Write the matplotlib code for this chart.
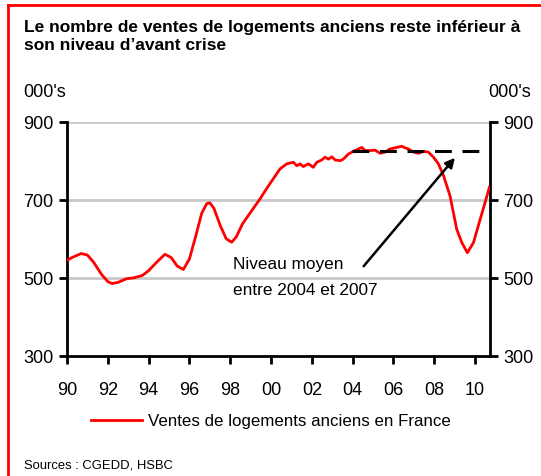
import matplotlib
matplotlib.use("Agg")
import matplotlib.pyplot as plt
from matplotlib.lines import Line2D
from matplotlib import font_manager

names = {f.name for f in font_manager.fontManager.ttflist}
narrow = "Liberation Sans Narrow" if "Liberation Sans Narrow" in names else "Liberation Sans"
plt.rcParams['font.family'] = [narrow, 'DejaVu Sans']

# ventes de logements anciens (milliers)
years = [1990.0, 1990.3, 1990.7, 1991.0, 1991.3, 1991.7, 1992.0, 1992.2, 1992.5, 1992.9,
         1993.3, 1993.7, 1994.0, 1994.4, 1994.8, 1995.1, 1995.4, 1995.7, 1996.0, 1996.3,
         1996.6, 1996.85, 1997.0, 1997.2, 1997.5, 1997.8, 1998.07, 1998.3, 1998.6, 1999.0,
         1999.46, 1999.8, 2000.1, 2000.44, 2000.77, 2001.09, 2001.26, 2001.42, 2001.58, 2001.83,
         2002.07, 2002.24, 2002.49, 2002.65, 2002.81, 2002.98, 2003.14, 2003.38, 2003.54, 2003.79,
         2004.03, 2004.28, 2004.45, 2004.61, 2004.85, 2005.1, 2005.34, 2005.59, 2005.83, 2006.08,
         2006.41, 2006.57, 2006.73, 2006.98, 2007.22, 2007.47, 2007.71, 2007.96, 2008.2, 2008.45,
         2008.77, 2009.1, 2009.35, 2009.62, 2009.92, 2010.25, 2010.49, 2010.7]
sales = [545, 553, 562, 558, 540, 508, 490, 485, 488, 497,
         500, 506, 518, 540, 560, 552, 530, 521, 548, 605,
         665, 690, 692, 678, 635, 600, 591, 605, 638, 668,
         702, 730, 753, 779, 792, 796, 787, 792, 785, 792,
         783, 796, 802, 809, 804, 810, 802, 800, 804, 817,
         824, 830, 834, 826, 826, 827, 819, 822, 830, 833,
         837, 833, 830, 822, 819, 824, 822, 809, 792, 762,
         710, 624, 590, 564, 590, 650, 693, 732]

avg_level = 826
avg_span = [2003.99, 2010.33]
arrow_tail = (2004.45, 524)
arrow_head = (2009.1, 813)

xticks = list(range(1990, 2011, 2))
xlabels = ["%02d" % (y % 100) for y in xticks]
yticks = [300, 500, 700, 900]

fig = plt.figure(figsize=(5.41, 4.77), dpi=100)
ax = fig.add_axes([67 / 541, 1 - 356.7 / 477, (490 - 67) / 541, (356.7 - 122.7) / 477])

for v in [500, 700, 900]:
    ax.axhline(v, color="#c8c8c8", lw=2, zorder=0)

line, = ax.plot(years, sales, color="#ff0000", lw=2, label="Ventes de logements anciens en France", zorder=3)
ax.plot(avg_span, [avg_level, avg_level], color="black", lw=2.2, linestyle=(0, (5.5, 3.5)), zorder=4)
ax.annotate("", xy=arrow_head, xytext=arrow_tail,
            arrowprops=dict(arrowstyle="-|>", color="black", lw=1.8, mutation_scale=14))
ax.text(1998.14, 556, "Niveau moyen\nentre 2004 et 2007", fontsize=12.4, va="top", ha="left",
        linespacing=1.92)

ax.set_xlim(1990, 2010.73)
ax.set_ylim(300, 900)
ax.set_xticks(xticks)
ax.set_xticklabels(xlabels)
ax.set_yticks(yticks)
ax.tick_params(axis="both", labelsize=13, width=2, length=5.8, direction="out", color="black")
ax.tick_params(axis="y", left=True, right=True, labelleft=True, labelright=True, pad=4)
ax.tick_params(axis="x", pad=12.5)
ax.spines["top"].set_visible(False)
for s in ["left", "right", "bottom"]:
    ax.spines[s].set_linewidth(2)
ax.set_facecolor("white")

fig.text(24 / 541, 1 - 20 / 477, "Le nombre de ventes de logements anciens reste inférieur à\nson niveau d\u2019avant crise",
         fontsize=12.5, fontweight="bold", va="top", ha="left", linespacing=1.25)
fig.text(23 / 541, 1 - 93 / 477, "000's", fontsize=13, va="center", ha="left")
fig.text(531 / 541, 1 - 93 / 477, "000's", fontsize=13, va="center", ha="right")
fig.text(24 / 541, 1 - 466 / 477, "Sources : CGEDD, HSBC", fontsize=9.4, va="center", ha="left")

fig.legend(handles=[line], loc="center", bbox_to_anchor=(271 / 541, 1 - 422 / 477), frameon=False,
           fontsize=12.2, handlelength=3.0, handletextpad=0.35)

# cadre rouge
fig.add_artist(Line2D([8 / 541, 1], [1 - 6 / 477, 1 - 6 / 477], color="#ff0000", lw=2, transform=fig.transFigure))
fig.add_artist(Line2D([8 / 541, 8 / 541], [0, 1 - 6 / 477], color="#ff0000", lw=2, transform=fig.transFigure))

fig.savefig("out.png", dpi=100)
